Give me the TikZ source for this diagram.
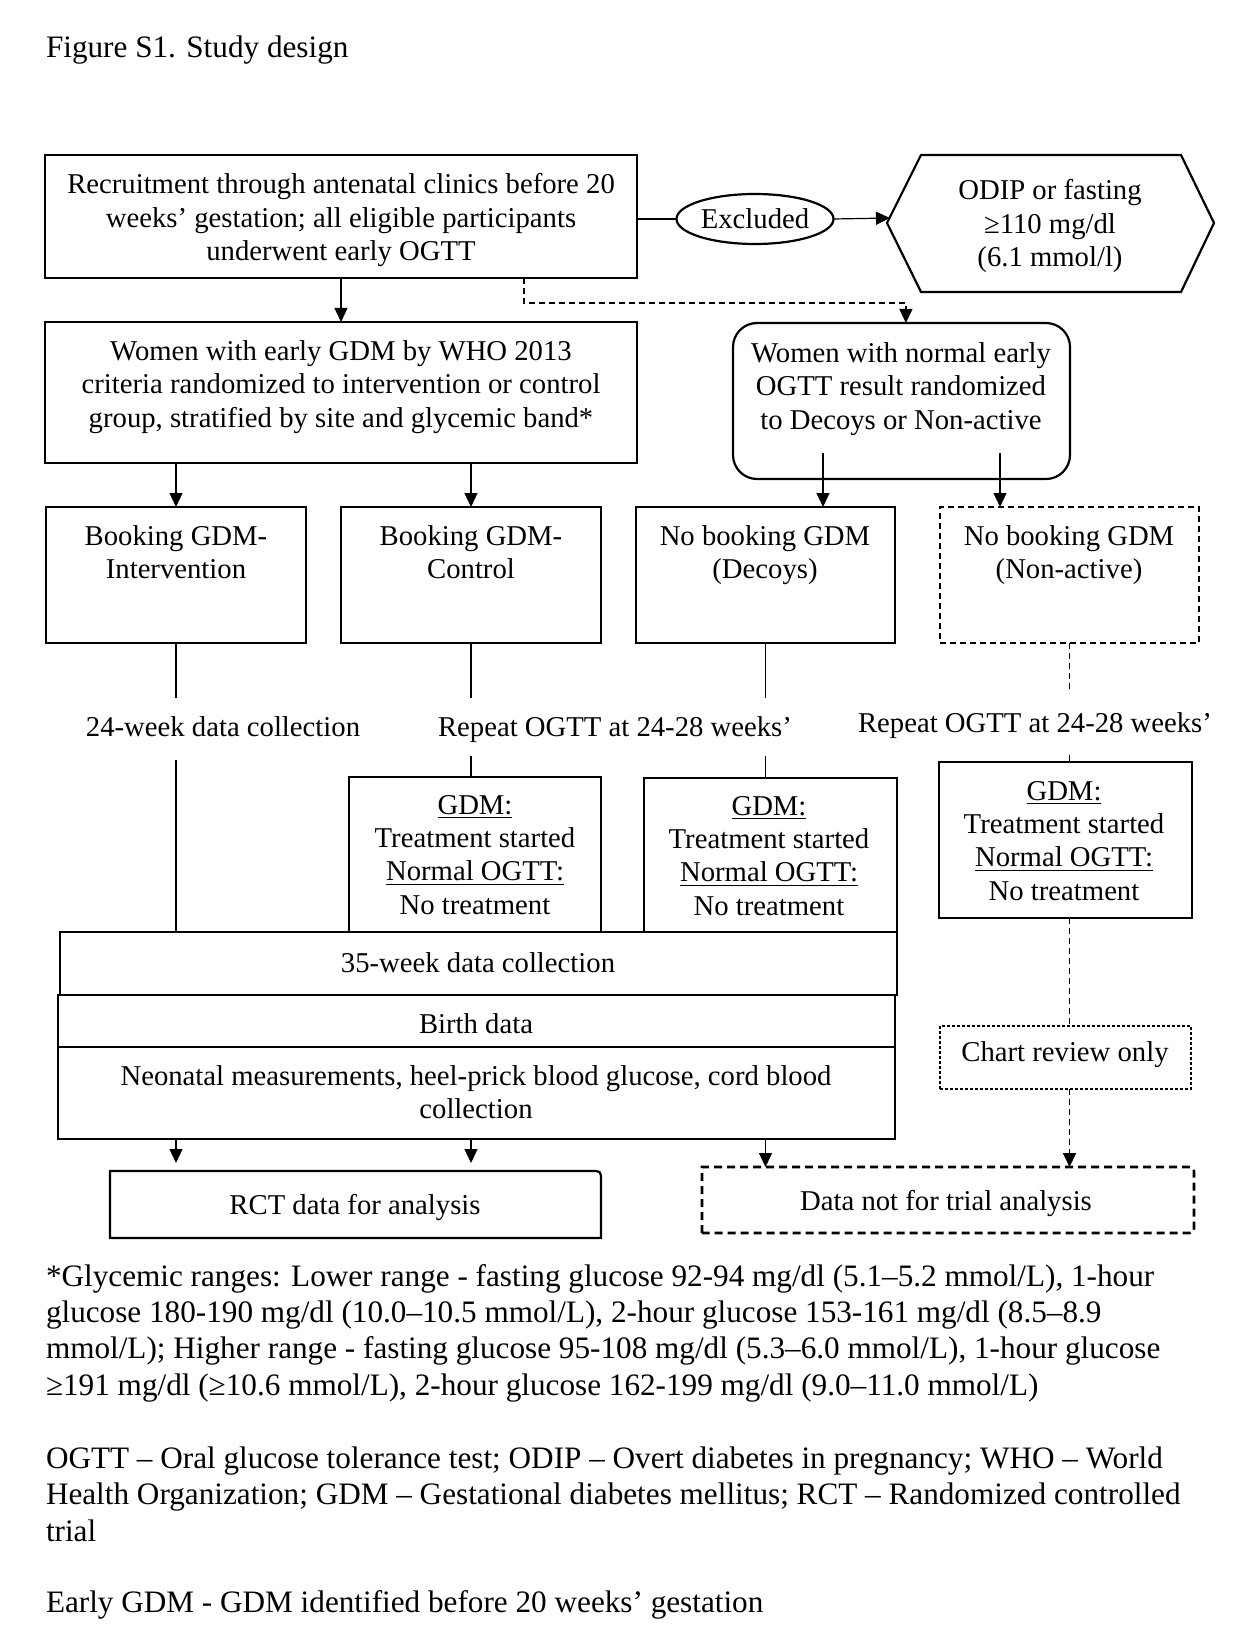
\documentclass[tikz,border=0pt]{standalone}
\usepackage{fontspec}
\setmainfont{Liberation Serif}
\usetikzlibrary{arrows.meta,shapes.geometric,fit}
\newcommand\boxfont{\fontsize{14.35}{16.6}\selectfont}
\newcommand\notefont{\fontsize{15.6}{18.05}\selectfont}
\begin{document}
\begin{tikzpicture}[x=0.5pt,y=-0.5pt,
  every node/.style={font=\boxfont, outer sep=0pt},
  bx/.style={draw, line width=0.6pt, inner sep=0pt},
  bxmid/.style={draw, line width=0.8pt, inner sep=0pt},
  bxthick/.style={draw, line width=1.1pt, inner sep=0pt},
  frame/.style={inner sep=0pt},
  txt/.style={align=center, inner sep=0pt},
  conn/.style={line width=0.6pt},
  arr/.style={line width=0.6pt, -{Triangle[length=7pt,width=6.5pt]}},
  dsh/.style={dash pattern=on 3pt off 2pt},
  dotd/.style={dash pattern=on 1.5pt off 1pt},
  note/.style={font=\notefont, align=left, inner sep=0pt, anchor=base west},
]
\useasboundingbox (0,0) rectangle (1248,1652);

% title
\node[note] (title) at (46,58) {Figure S1. Study design};

% top row
\node[bxthick, fit={(45,155)(637,278)}] (rec) {};
\node[txt] (rect) at (341,220) {Recruitment through antenatal clinics before 20\\weeks’ gestation; all eligible participants\\underwent early OGTT};
\node[ellipse, draw, line width=1.1pt, minimum width=78.5pt, minimum height=25pt, inner sep=0pt] (exc) at (755,219) {Excluded};
\node[txt] (hex) at (1050,226) {ODIP or fasting\\≥110 mg/dl\\(6.1 mmol/l)};
\draw[line width=1.1pt] (887,223) -- (921,155) -- (1181,155) -- (1214,223) -- (1181,292) -- (921,292) -- cycle;
\coordinate (hexin) at (890,218);
\draw[conn] (rec.east |- exc.west) -- (exc.west);
\draw[arr] (exc.east) -- (hexin);

% second row
\node[bxmid, fit={(45,322)(637,463)}] (gdm) {};
\node[txt] (gdmt) at (341,387) {Women with early GDM by WHO 2013\\criteria randomized to intervention or control\\group, stratified by site and glycemic band*};
\node[bxthick, rounded corners=12pt, fit={(733,323)(1070,479)}] (norm) {};
\node[txt] (normt) at (901,389) {Women with normal early\\OGTT result randomized\\to Decoys or Non-active};

\draw[arr] (rec.south) -- (gdm.north);
\coordinate (dA) at (524,303);
\draw[arr, dsh] (rec.south -| dA) -- (dA) -| ([xshift=2.2pt]norm.north);

% booking row
\node[bx, fit={(46,507)(306,643)}] (bi) {};
\node[txt] (bit) at (176,552) {Booking GDM-\\Intervention};
\node[bx, fit={(341,507)(601,643)}] (bc) {};
\node[txt] (bct) at (471,552) {Booking GDM-\\Control};
\node[bx, fit={(636,507)(895,643)}] (dec) {};
\node[txt] (dect) at (765,555) {No booking GDM\\(Decoys)};
\node[bx, dsh, fit={(940,507)(1199,643)}] (non) {};
\node[txt] (nont) at (1069,555) {No booking GDM\\(Non-active)};

\draw[arr] (gdm.south -| bi.north) -- (bi.north);
\draw[arr] (gdm.south -| bc.north) -- (bc.north);
\coordinate (nA) at (823,453);
\coordinate (nB) at (1000,453);
\draw[arr] (nA) -- (nA |- dec.north);
\draw[arr] (nB) -- (nB |- non.north);

% labels
\node[txt] (w24) at (223,727) {24-week data collection};
\node[txt] (rep1) at (615,730) {Repeat OGTT at 24-28 weeks’};
\node[txt] (rep2) at (1035,726) {Repeat OGTT at 24-28 weeks’};

% GDM result boxes
\node[bx, fit={(349,777)(601,932)}] (gc) {};
\node[txt] (gct) at (475,855) {\underline{GDM:}\\Treatment started\\\underline{Normal OGTT:}\\No treatment};
\node[bx, fit={(644,778)(897,932)}] (gd) {};
\node[txt] (gdt) at (769,856) {\underline{GDM:}\\Treatment started\\\underline{Normal OGTT:}\\No treatment};
\node[draw, line width=1.3pt, inner sep=0pt, fit={(939,762)(1192,918)}] (gn) {};
\node[txt] (gnt) at (1064,841) {\underline{GDM:}\\Treatment started\\\underline{Normal OGTT:}\\No treatment};

% bottom stack
\node[bxmid, fit={(60,932)(897,995)}] (w35) {};
\node[txt] (w35t) at (478,963) {35-week data collection};
\node[bxmid, fit={(58,995)(895,1047)}] (wb) {};
\node[txt] (wbt) at (476,1024) {Birth data};
\node[bx, fit={(58,1047)(895,1139)}] (wn) {};
\node[txt] (wnt) at (476,1092) {Neonatal measurements, heel-prick blood glucose, cord blood\\collection};

% vertical connectors with gaps
\coordinate (ya) at (0,698);
\coordinate (yb) at (0,760);
\coordinate (yc) at (0,756);
\coordinate (yd) at (0,693);
\coordinate (ye) at (0,755);
\draw[conn] (bi.south) -- (bi.south |- ya);
\draw[conn] (bi.south |- yb) -- (bi.south |- w35.north);
\draw[conn] (bc.south) -- (bc.south |- ya);
\draw[conn] (bc.south |- yc) -- (bc.south |- gc.north);
\draw[conn] (dec.south) -- (dec.south |- ya);
\draw[conn] (dec.south |- yc) -- (dec.south |- gd.north);
\draw[conn, dsh] (non.south) -- (non.south |- yd);
\draw[conn, dsh] (non.south |- ye) -- (non.south |- gn.north);

% chart review and final boxes
\node[bx, dotd, fit={(940,1026)(1191,1089)}] (chart) {};
\node[txt] (chartt) at (1065,1055) {Chart review only};
\draw[line width=0.9pt, dsh] (gn.south -| non.south) -- (chart.north -| non.south);
\node[frame, fit={(110,1171)(601,1238)}] (rct) {};
\node[txt] (rctt) at (355,1207) {RCT data for analysis};
\draw[line width=1.1pt] (rct.south west) -- (rct.north west) -- ([xshift=-5pt]rct.north east) .. controls (rct.north east) .. ([yshift=-5pt]rct.north east) -- (rct.south east) -- cycle;
\node[frame, fit={(702,1167)(1194,1233)}] (dnot) {};
\node[txt] (dnott) at (946,1203) {Data not for trial analysis};
\draw[line width=1.3pt, dash pattern=on 4pt off 2.5pt] (dnot.south west) -- (dnot.north west) -- ([xshift=-4pt]dnot.north east) .. controls (dnot.north east) .. ([yshift=-4pt]dnot.north east) -- ([yshift=4pt]dnot.south east) .. controls (dnot.south east) .. ([xshift=-4pt]dnot.south east) -- cycle;

\draw[arr] (wn.south -| bi.south) -- ([yshift=4pt]rct.north -| bi.south);
\draw[arr] (wn.south -| bc.south) -- ([yshift=4pt]rct.north -| bc.south);
\draw[arr] (wn.south -| dec.south) -- (dnot.north -| dec.south);
\draw[arr, line width=0.9pt, dsh] (chart.south -| non.south) -- (dnot.north -| non.south);

% notes (anchor = baseline of last line)
\node[note] (n1) at (46,1395) {*Glycemic ranges: Lower range - fasting glucose 92-94 mg/dl (5.1–5.2 mmol/L), 1-hour\\glucose 180-190 mg/dl (10.0–10.5 mmol/L), 2-hour glucose 153-161 mg/dl (8.5–8.9\\mmol/L); Higher range - fasting glucose 95-108 mg/dl (5.3–6.0 mmol/L), 1-hour glucose\\≥191 mg/dl (≥10.6 mmol/L), 2-hour glucose 162-199 mg/dl (9.0–11.0 mmol/L)};
\node[note] (n2) at (46,1541) {OGTT – Oral glucose tolerance test; ODIP – Overt diabetes in pregnancy; WHO – World\\Health Organization; GDM – Gestational diabetes mellitus; RCT – Randomized controlled\\trial};
\node[note] (n3) at (46,1612) {Early GDM - GDM identified before 20 weeks’ gestation};
\end{tikzpicture}
\end{document}
